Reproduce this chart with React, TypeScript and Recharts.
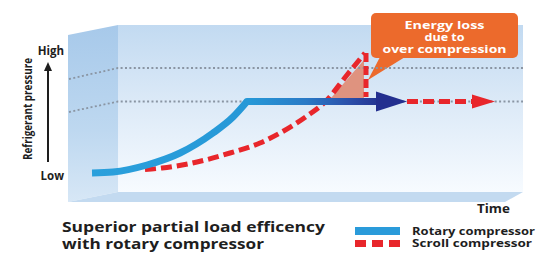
import React from 'react';
import {
  ComposedChart,
  Line,
  XAxis,
  YAxis,
  ReferenceArea,
  ReferenceDot,
  Legend,
  Label,
} from 'recharts';

const FONT = '"Open Sans", "Noto Sans", "DejaVu Sans", sans-serif';

// ---- axis / text content ----
const pressureTicks = [12, 74.5];
const pressureTickLabels = ['Low', 'High'];
const yAxisTitle = 'Refrigerant pressure';
const xAxisTitle = 'Time';
const captionLines = ['Superior partial load efficency', 'with rotary compressor'];
const calloutLines = ['Energy loss', 'due to', 'over compression'];
const legendLabels = ['Rotary compressor', 'Scroll compressor'];

// ---- guide levels (dotted) : t = time, p = pressure ----
const upperGuide = [
  { t: 0, p: 60.5 },
  { t: 10.8, p: 66 },
  { t: 100, p: 66 },
];
const lowerGuide = [
  { t: 0, p: 44 },
  { t: 10.8, p: 49.25 },
  { t: 100, p: 49.25 },
];

// ---- rotary compressor ----
const rotaryRise = [
  { t: 5.07, p: 13.5 },
  { t: 9.69, p: 14.0 },
  { t: 17.18, p: 17.5 },
  { t: 24.45, p: 23.5 },
  { t: 31.72, p: 33.5 },
  { t: 36.12, p: 41.5 },
  { t: 39.21, p: 49.25 },
];
const rotaryPlateau = [
  { t: 39.21, p: 49.25 },
  { t: 68.5, p: 49.25 },
];
const rotaryArrowTip = { t: 74.45, p: 49.25 };

// ---- scroll compressor ----
const scrollRise = [
  { t: 16.74, p: 15.25 },
  { t: 20.5, p: 16.0 },
  { t: 28.19, p: 19.0 },
  { t: 35.46, p: 23.5 },
  { t: 42.07, p: 28.5 },
  { t: 46.48, p: 33.5 },
  { t: 52.42, p: 42.0 },
  { t: 56.61, p: 49.5 },
  { t: 61.23, p: 62.5 },
  { t: 65.2, p: 73.5 },
];
const scrollDrop = [
  { t: 65.42, p: 73.5 },
  { t: 65.42, p: 51.5 },
];
const scrollPlateau = [
  { t: 74.45, p: 49.25 },
  { t: 88.8, p: 49.25 },
];
const scrollArrowTip = { t: 93.83, p: 49.25 };

// ---- over-compression loss & callout ----
const lossRegion = { t1: 57.71, t2: 64.98, p1: 51, p2: 70 };
const calloutRegion = { t1: 66.52, t2: 98.9, p1: 71, p2: 93.5 };

// ---- 3D box decoration ----
const backWall = { t1: 10.8, t2: 100, p1: 4, p2: 87.5 };
const sideWall = { t1: 0, t2: 10.8, p1: 0, p2: 87.5 };
const floorStrip = { t1: 0, t2: 100, p1: 0, p2: 4 };

const BLUE = '#2a9bda';
const RED = '#e8262b';
const ORANGE = '#ec6a2c';

const BackWallShape = (props: any) => {
  const { x, y, width, height } = props;
  return <rect x={x} y={y} width={width} height={height} fill="url(#backGrad)" />;
};

const SideWallShape = (props: any) => {
  const { x, y, width, height } = props;
  const pts = [
    [x - 1, y + 10],
    [x + width, y],
    [x + width, y + height - 8],
    [x - 1, y + height + 2],
  ]
    .map((p) => p.join(','))
    .join(' ');
  return <polygon points={pts} fill="url(#sideGrad)" />;
};

const FloorShape = (props: any) => {
  const { x, y, width, height } = props;
  const pts = [
    [x - 1, y + height + 2],
    [x + 49, y],
    [x + width, y],
    [x + width - 18, y + height + 2],
  ]
    .map((p) => p.join(','))
    .join(' ');
  return <polygon points={pts} fill="#c3daf0" />;
};

const LossShape = (props: any) => {
  const { x, y, width, height } = props;
  const pts = [
    [x, y + height],
    [x + width, y],
    [x + width, y + height],
  ]
    .map((p) => p.join(','))
    .join(' ');
  return <polygon points={pts} fill="#e08a72" fillOpacity={0.9} />;
};

const CalloutShape = (props: any) => {
  const { x, y, width, height } = props;
  const r = 5;
  const cx = x + width / 2;
  const lineWidths = [80, 40, 124];
  return (
    <g>
      <rect x={x} y={y} width={width} height={height} rx={r} ry={r} fill={ORANGE} />
      <polygon
        points={`${x + 9},${y + height - 1} ${x - 3},${y + height + 22} ${x + 34},${y + height - 1}`}
        fill={ORANGE}
      />
      {calloutLines.map((s, i) => (
        <text
          key={s}
          x={cx}
          y={y + 16 + i * 12}
          textAnchor="middle"
          fill="#ffffff"
          fontFamily={FONT}
          fontWeight={700}
          fontSize={11}
          textLength={lineWidths[i]}
          lengthAdjust="spacingAndGlyphs"
        >
          {s}
        </text>
      ))}
    </g>
  );
};

const ArrowHead = (color: string, len: number, half: number) => (props: any) => {
  const { cx, cy } = props;
  return (
    <polygon
      points={`${cx},${cy} ${cx - len},${cy - half} ${cx - len},${cy + half}`}
      fill={color}
    />
  );
};

const renderYTitle = (props: any) => {
  const vb = props.viewBox || { x: 0, y: 0, width: 69, height: 200 };
  const bx = vb.x + 32;
  const cy = vb.y + 109;
  const ax = vb.x + 48;
  return (
    <g>
      <text
        transform={`translate(${bx},${cy}) rotate(-90)`}
        textAnchor="middle"
        fontFamily={FONT}
        fontWeight={700}
        fontSize={13}
        fill="#1e1e1e"
        textLength={102}
        lengthAdjust="spacingAndGlyphs"
      >
        {yAxisTitle}
      </text>
      <line x1={ax} y1={vb.y + 162} x2={ax} y2={vb.y + 69} stroke="#1e1e1e" strokeWidth={2} />
      <polygon
        points={`${ax},${vb.y + 62} ${ax - 4},${vb.y + 71} ${ax + 4},${vb.y + 71}`}
        fill="#1e1e1e"
      />
    </g>
  );
};

const renderBottomTexts = (props: any) => {
  const vb = props.viewBox || { x: 69, y: 200, width: 454, height: 53 };
  const widths = [263, 202];
  return (
    <g>
      <text
        x={vb.x + vb.width - 13}
        y={vb.y + 13}
        textAnchor="end"
        fontFamily={FONT}
        fontWeight={700}
        fontSize={11.5}
        fill="#1e1e1e"
        textLength={33}
        lengthAdjust="spacingAndGlyphs"
      >
        {xAxisTitle}
      </text>
      {captionLines.map((s, i) => (
        <text
          key={s}
          x={vb.x - 7}
          y={vb.y + 32 + i * 17}
          fontFamily={FONT}
          fontWeight={700}
          fontSize={14.5}
          fill="#1e1e1e"
          textLength={widths[i]}
          lengthAdjust="spacingAndGlyphs"
        >
          {s}
        </text>
      ))}
    </g>
  );
};

const renderLegend = () => (
  <svg width={192} height={30} style={{ display: 'block' }}>
    <rect x={3} y={4} width={45} height={8} fill={BLUE} />
    <line x1={3} y1={20.5} x2={48} y2={20.5} stroke={RED} strokeWidth={7} strokeDasharray="11 6" />
    {legendLabels.map((s, i) => (
      <text
        key={s}
        x={60}
        y={12 + i * 12}
        fontFamily={FONT}
        fontWeight={700}
        fontSize={11}
        fill="#1e1e1e"
        textLength={i === 0 ? 123 : 120}
        lengthAdjust="spacingAndGlyphs"
      >
        {s}
      </text>
    ))}
  </svg>
);

export default function App() {
  return (
    <div style={{ position: 'absolute', left: 0, top: 0, width: 544, height: 253, background: '#ffffff' }}>
      <ComposedChart width={544} height={253} margin={{ top: 0, right: 21, bottom: 0, left: 0 }}>
        <defs>
          <linearGradient id="backGrad" x1="0" y1="0" x2="0" y2="1">
            <stop offset="0%" stopColor="#c2daf1" />
            <stop offset="45%" stopColor="#dbe9f7" />
            <stop offset="100%" stopColor="#f7fbff" />
          </linearGradient>
          <linearGradient id="sideGrad" x1="0" y1="0" x2="0" y2="1">
            <stop offset="0%" stopColor="#a7c9ea" />
            <stop offset="60%" stopColor="#bed8f0" />
            <stop offset="100%" stopColor="#d7e7f6" />
          </linearGradient>
          <linearGradient id="rotaryGrad" gradientUnits="userSpaceOnUse" x1="92" y1="0" x2="407" y2="0">
            <stop offset="0%" stopColor="#2aa0dc" />
            <stop offset="50%" stopColor="#2698d7" />
            <stop offset="68%" stopColor="#2a7ac6" />
            <stop offset="82%" stopColor="#2a4ea9" />
            <stop offset="92%" stopColor="#23318f" />
            <stop offset="100%" stopColor="#222c8a" />
          </linearGradient>
        </defs>
        <XAxis
          type="number"
          dataKey="t"
          domain={[0, 100]}
          height={53}
          tick={false}
          axisLine={false}
          tickLine={false}
        >
          <Label content={renderBottomTexts} />
        </XAxis>
        <YAxis
          type="number"
          dataKey="p"
          domain={[0, 100]}
          ticks={pressureTicks}
          width={69}
          axisLine={false}
          tickLine={false}
          tickSize={0}
          tickMargin={5}
          interval={0}
          tick={{ fontFamily: FONT, fontWeight: 700, fontSize: 11.5, fill: '#1e1e1e' }}
          tickFormatter={(v: number) => pressureTickLabels[pressureTicks.indexOf(v)]}
        >
          <Label content={renderYTitle} />
        </YAxis>

        <ReferenceArea
          x1={backWall.t1}
          x2={backWall.t2}
          y1={backWall.p1}
          y2={backWall.p2}
          shape={BackWallShape}
          ifOverflow="visible"
        />
        <ReferenceArea
          x1={sideWall.t1}
          x2={sideWall.t2}
          y1={sideWall.p1}
          y2={sideWall.p2}
          shape={SideWallShape}
          ifOverflow="visible"
        />
        <ReferenceArea
          x1={floorStrip.t1}
          x2={floorStrip.t2}
          y1={floorStrip.p1}
          y2={floorStrip.p2}
          shape={FloorShape}
          ifOverflow="visible"
        />
        <ReferenceArea
          x1={lossRegion.t1}
          x2={lossRegion.t2}
          y1={lossRegion.p1}
          y2={lossRegion.p2}
          shape={LossShape}
          ifOverflow="visible"
        />

        <Line data={upperGuide} dataKey="p" type="linear" stroke="#8a95a3" strokeWidth={1.8} strokeDasharray="2 2.4" dot={false} activeDot={false} isAnimationActive={false} legendType="none" />
        <Line data={lowerGuide} dataKey="p" type="linear" stroke="#8a95a3" strokeWidth={1.8} strokeDasharray="2 2.4" dot={false} activeDot={false} isAnimationActive={false} legendType="none" />

        <Line data={scrollRise} dataKey="p" type="monotone" stroke={RED} strokeWidth={5} strokeDasharray="11 5" dot={false} activeDot={false} isAnimationActive={false} />
        <Line data={scrollDrop} dataKey="p" type="linear" stroke={RED} strokeWidth={5} strokeDasharray="9 4" dot={false} activeDot={false} isAnimationActive={false} />
        <Line data={scrollPlateau} dataKey="p" type="linear" stroke={RED} strokeWidth={5} strokeDasharray="11 5" dot={false} activeDot={false} isAnimationActive={false} />

        <Line data={rotaryRise} dataKey="p" type="monotone" stroke="url(#rotaryGrad)" strokeWidth={7} strokeLinecap="butt" dot={false} activeDot={false} isAnimationActive={false} />
        <Line data={rotaryPlateau} dataKey="p" type="linear" stroke="url(#rotaryGrad)" strokeWidth={7} strokeLinecap="round" dot={false} activeDot={false} isAnimationActive={false} />

        <ReferenceDot x={rotaryArrowTip.t} y={rotaryArrowTip.p} r={1} shape={ArrowHead('#232f8f', 31, 10)} ifOverflow="visible" />
        <ReferenceDot x={scrollArrowTip.t} y={scrollArrowTip.p} r={1} shape={ArrowHead(RED, 23, 7)} ifOverflow="visible" />

        <ReferenceArea
          x1={calloutRegion.t1}
          x2={calloutRegion.t2}
          y1={calloutRegion.p1}
          y2={calloutRegion.p2}
          shape={CalloutShape}
          ifOverflow="visible"
        />

        <Legend
          layout="horizontal"
          verticalAlign="middle"
          align="center"
          content={renderLegend}
          wrapperStyle={{ left: 352, top: 223, width: 192, height: 30 }}
        />
      </ComposedChart>
    </div>
  );
}
